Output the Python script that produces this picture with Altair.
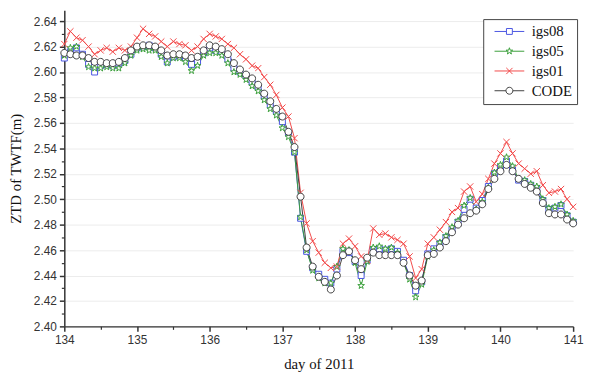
import altair as alt
import pandas as pd

# sampling: every 2 hours from day 134.0 to day 141.0
hours = [0, 2, 4, 6, 8, 10, 12, 14, 16, 18, 20, 22,
         24, 26, 28, 30, 32, 34, 36, 38, 40, 42, 44, 46,
         48, 50, 52, 54, 56, 58, 60, 62, 64, 66, 68, 70,
         72, 74, 76, 78, 80, 82, 84, 86, 88, 90, 92, 94,
         96, 98, 100, 102, 104, 106, 108, 110, 112, 114, 116, 118,
         120, 122, 124, 126, 128, 130, 132, 134, 136, 138, 140, 142,
         144, 146, 148, 150, 152, 154, 156, 158, 160, 162, 164, 166, 168]
start_day = 134

igs08 = [2.611, 2.616, 2.619, 2.614, 2.606, 2.600, 2.605, 2.606, 2.605, 2.607, 2.609, 2.614,
         2.619, 2.620, 2.621, 2.619, 2.614, 2.608, 2.612, 2.613, 2.611, 2.606, 2.608, 2.615,
         2.619, 2.617, 2.616, 2.610, 2.603, 2.600, 2.597, 2.592, 2.588, 2.581, 2.574, 2.569,
         2.561, 2.552, 2.537, 2.485, 2.459, 2.446, 2.441, 2.437, 2.434, 2.445, 2.459, 2.458,
         2.451, 2.440, 2.452, 2.460, 2.461, 2.460, 2.461, 2.459, 2.452, 2.440, 2.428, 2.435,
         2.457, 2.461, 2.465, 2.470, 2.476, 2.482, 2.492, 2.500, 2.493, 2.499, 2.510, 2.520,
         2.525, 2.530, 2.523, 2.515, 2.514, 2.511, 2.508, 2.499, 2.492, 2.493, 2.495, 2.487, 2.482]

igs05 = [2.613, 2.619, 2.620, 2.612, 2.604, 2.603, 2.603, 2.604, 2.603, 2.603, 2.607, 2.613,
         2.617, 2.618, 2.617, 2.617, 2.612, 2.607, 2.611, 2.611, 2.608, 2.601, 2.605, 2.613,
         2.615, 2.615, 2.613, 2.607, 2.600, 2.598, 2.594, 2.589, 2.585, 2.578, 2.571, 2.566,
         2.556, 2.549, 2.537, 2.486, 2.460, 2.444, 2.438, 2.434, 2.434, 2.447, 2.461, 2.460,
         2.450, 2.432, 2.451, 2.462, 2.463, 2.461, 2.462, 2.458, 2.450, 2.437, 2.423, 2.433,
         2.455, 2.460, 2.466, 2.471, 2.478, 2.483, 2.495, 2.501, 2.492, 2.498, 2.509, 2.521,
         2.527, 2.533, 2.526, 2.516, 2.515, 2.512, 2.510, 2.500, 2.493, 2.494, 2.496, 2.488, 2.483]

igs01 = [2.622, 2.632, 2.627, 2.625, 2.620, 2.614, 2.617, 2.619, 2.616, 2.619, 2.617, 2.620,
         2.627, 2.634, 2.630, 2.628, 2.624, 2.620, 2.624, 2.622, 2.621, 2.617, 2.620, 2.626,
         2.630, 2.628, 2.626, 2.622, 2.619, 2.614, 2.610, 2.605, 2.603, 2.596, 2.590, 2.582,
         2.572, 2.565, 2.548, 2.505, 2.481, 2.467, 2.458, 2.450, 2.446, 2.447, 2.465, 2.469,
         2.463, 2.455, 2.452, 2.477, 2.472, 2.473, 2.470, 2.468, 2.465, 2.455, 2.438, 2.445,
         2.465, 2.470, 2.476, 2.482, 2.490, 2.493, 2.506, 2.510, 2.498, 2.504, 2.516, 2.528,
         2.536, 2.545, 2.536, 2.528, 2.524, 2.520, 2.522, 2.511, 2.505, 2.506, 2.508, 2.500, 2.494]

code = [2.615, 2.614, 2.613, 2.613, 2.611, 2.608, 2.608, 2.607, 2.607, 2.608, 2.611, 2.617,
        2.620, 2.621, 2.621, 2.620, 2.617, 2.613, 2.614, 2.614, 2.613, 2.611, 2.612, 2.617,
        2.621, 2.620, 2.618, 2.614, 2.607, 2.602, 2.598, 2.595, 2.590, 2.583, 2.577, 2.571,
        2.565, 2.553, 2.541, 2.502, 2.462, 2.447, 2.439, 2.435, 2.429, 2.440, 2.456, 2.459,
        2.452, 2.445, 2.454, 2.458, 2.456, 2.456, 2.456, 2.456, 2.450, 2.440, 2.432, 2.436,
        2.456, 2.457, 2.462, 2.467, 2.474, 2.480, 2.485, 2.489, 2.491, 2.496, 2.508, 2.516,
        2.522, 2.527, 2.522, 2.516, 2.512, 2.509, 2.506, 2.497, 2.489, 2.488, 2.488, 2.484, 2.481]

series_names = ["igs08", "igs05", "igs01", "CODE"]
series_values = [igs08, igs05, igs01, code]
series_colors = ["#4a55e2", "#3a9e3a", "#f24a4a", "#404040"]

x_ticks = [134, 135, 136, 137, 138, 139, 140, 141]
x_minor = [134.5, 135.5, 136.5, 137.5, 138.5, 139.5, 140.5]
y_ticks = [2.40, 2.42, 2.44, 2.46, 2.48, 2.50, 2.52, 2.54, 2.56, 2.58, 2.60, 2.62, 2.64]
y_minor = [2.41, 2.43, 2.45, 2.47, 2.49, 2.51, 2.53, 2.55, 2.57, 2.59, 2.61, 2.63]

STAR = "M0,-1L0.224,-0.309L0.951,-0.309L0.363,0.118L0.588,0.809L0,0.382L-0.588,0.809L-0.363,0.118L-0.951,-0.309L-0.224,-0.309Z"
marker_paths = [
    "M-0.85,-0.85H0.85V0.85H-0.85Z",
    STAR,
    "M-0.9,-0.9L0.9,0.9M-0.9,0.9L0.9,-0.9",
    "M1,0A1,1,0,1,1,-1,0A1,1,0,1,1,1,0Z",
]
legend_paths = [
    "M-4.3,0H-0.85M0.85,0H4.3M-0.85,-0.85H0.85V0.85H-0.85Z",
    "M-4.3,0H-0.53M0.53,0H4.3M" + STAR[1:],
    "M-4.3,0H4.3M-0.9,-0.9L0.9,0.9M-0.9,0.9L0.9,-0.9",
    "M-4.3,0H-1M1,0H4.3M1,0A1,1,0,1,1,-1,0A1,1,0,1,1,1,0Z",
]

rows = []
for k, (name, vals) in enumerate(zip(series_names, series_values)):
    for h, v in zip(hours, vals):
        rows.append({"day": start_day + h / 24.0, "value": v, "series": name, "k": k})
df = pd.DataFrame(rows)

x_scale = alt.Scale(domain=[134, 141], nice=False, zero=False)
y_scale = alt.Scale(domain=[2.40, 2.6486], nice=False, zero=False)

axis_common = dict(
    domainColor="#333333", domainWidth=1.5, tickColor="#333333", tickWidth=1.5,
    labelFont="Liberation Sans", labelFontSize=12, labelColor="#333333", labelFlush=False,
    titleFont="Liberation Serif", titleFontSize=15, titleFontWeight="normal", titleColor="#111111",
)

x_main = alt.X("day:Q", scale=x_scale, axis=alt.Axis(
    orient="bottom", values=x_ticks, format="d", title="day of 2011", grid=False,
    tickSize=5, labelPadding=3, titlePadding=12, **axis_common))
y_main = alt.Y("value:Q", scale=y_scale, axis=alt.Axis(
    orient="left", values=y_ticks, format=".2f", title="ZTD of TWTF(m)", grid=True,
    gridColor="#ececec", gridWidth=1, tickSize=5, labelPadding=3, titlePadding=10, **axis_common))

stroke_scale = alt.Scale(domain=series_names, range=series_colors)

lines = alt.Chart(df).mark_line(strokeWidth=1, opacity=1).encode(
    x=x_main, y=y_main,
    stroke=alt.Stroke("series:N", scale=stroke_scale, legend=None),
    order="day:Q",
)

points = alt.Chart(df).mark_point(filled=True, fill="white", strokeWidth=1, size=50, opacity=1).encode(
    x=alt.X("day:Q", scale=x_scale, axis=None),
    y=alt.Y("value:Q", scale=y_scale, axis=None),
    stroke=alt.Stroke("series:N", scale=stroke_scale, legend=None),
    shape=alt.Shape("series:N", scale=alt.Scale(domain=series_names, range=marker_paths), legend=None),
    order="k:Q",
)

legend_layer = alt.Chart(df).transform_filter(alt.datum.day < 0).mark_point(
    filled=True, fill="white", strokeWidth=1, size=49, opacity=1).encode(
    x=alt.X("day:Q", scale=x_scale, axis=alt.Axis(
        orient="bottom", values=x_minor, labels=False, title=None, grid=False, domain=False,
        ticks=True, tickSize=3, tickColor="#333333", tickWidth=1.2)),
    y=alt.Y("value:Q", scale=y_scale, axis=alt.Axis(
        orient="left", values=y_minor, labels=False, title=None, grid=False, domain=False,
        ticks=True, tickSize=3, tickColor="#333333", tickWidth=1.2)),
    stroke=alt.Stroke("series:N", scale=alt.Scale(domain=series_names, range=series_colors),
                      legend=alt.Legend(title=None)),
    shape=alt.Shape("series:N", scale=alt.Scale(domain=series_names, range=legend_paths),
                    legend=alt.Legend(title=None)),
)

chart = alt.layer(lines, points, legend_layer).resolve_scale(
    stroke="independent", shape="independent"
).resolve_axis(x="independent", y="independent").properties(
    width=515, height=320,
    autosize=alt.AutoSizeParams(type="none"),
    padding={"left": 57, "top": 0, "right": 11, "bottom": 50},
).configure_view(stroke=None).configure_legend(
    orient="none", legendX=424, legendY=9,
    strokeColor="#444444", fillColor="white", padding=5,
    labelFont="Liberation Serif", labelFontSize=15, labelColor="#111111",
    symbolSize=49, symbolOffset=14, labelOffset=15, rowPadding=4, symbolStrokeWidth=1,
)

chart.save("out.html", embed_options={"renderer": "svg", "actions": False})
